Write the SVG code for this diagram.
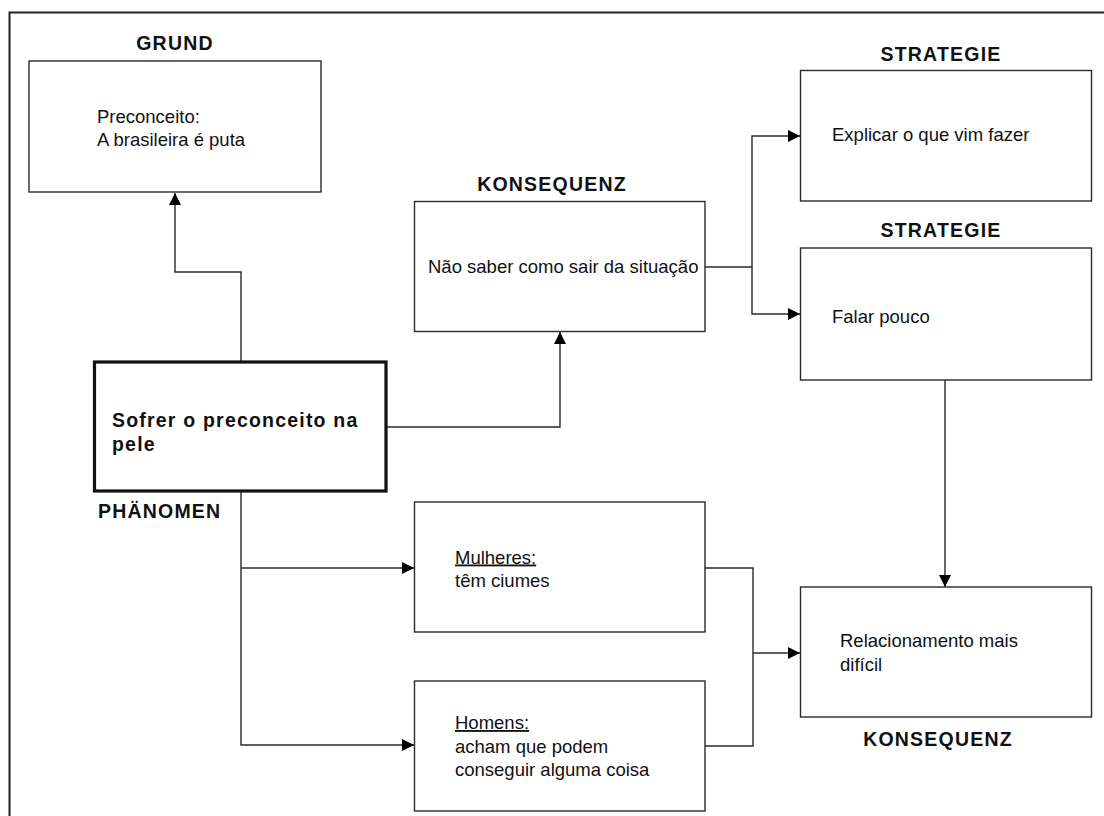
<svg xmlns="http://www.w3.org/2000/svg" width="1104" height="816" viewBox="0 0 1104 816">
<style>
.box{fill:#fff;stroke:#2a2a2a;stroke-width:1.4}
.thick{fill:#fff;stroke:#111;stroke-width:3.2}
.t{font-family:"Liberation Sans",Arial,sans-serif;font-size:18.5px;fill:#111}
.b{font-family:"Liberation Sans",Arial,sans-serif;font-size:19.5px;font-weight:bold;letter-spacing:1.2px;fill:#111}
.c{fill:none;stroke:#2a2a2a;stroke-width:1.4}
</style>
<defs>
<marker id="ah" markerUnits="userSpaceOnUse" markerWidth="13" markerHeight="12" refX="12" refY="6" orient="auto">
<path d="M0,0 L12,6 L0,12 z" fill="#000"/>
</marker>
</defs>
<rect width="1104" height="816" fill="#fff"/>
<rect x="9.5" y="12.5" width="1200" height="900" fill="none" stroke="#222" stroke-width="2"/>
<g id="connectors">
<path class="c" d="M241,362 V272 H175 V193" marker-end="url(#ah)"/>
<path class="c" d="M386,427 H560 V332" marker-end="url(#ah)"/>
<path class="c" d="M705,267 H752 V136 H800" marker-end="url(#ah)"/>
<path class="c" d="M752,267 V314 H800" marker-end="url(#ah)"/>
<path class="c" d="M945,380 V587" marker-end="url(#ah)"/>
<path class="c" d="M241,491 V745 H414" marker-end="url(#ah)"/>
<path class="c" d="M241,568 H414" marker-end="url(#ah)"/>
<path class="c" d="M705,568 H753 V746 H705"/>
<path class="c" d="M753,653 H800" marker-end="url(#ah)"/>
</g>
<g id="grund">
<text class="b" x="175" y="50" text-anchor="middle">GRUND</text>
<rect class="box" x="29" y="61" width="292" height="131"/>
<text class="t" x="97" y="122.5">Preconceito:</text>
<text class="t" x="97" y="146">A brasileira é puta</text>
</g>
<g id="konsequenz1">
<text class="b" x="552" y="190.5" text-anchor="middle">KONSEQUENZ</text>
<rect class="box" x="414.5" y="201.5" width="290.5" height="130"/>
<text class="t" x="428" y="273">Não saber como sair da situação</text>
</g>
<g id="strategie1">
<text class="b" x="941" y="60.5" text-anchor="middle">STRATEGIE</text>
<rect class="box" x="800.5" y="70.5" width="291" height="130.5"/>
<text class="t" x="832" y="140.5">Explicar o que vim fazer</text>
</g>
<g id="strategie2">
<text class="b" x="941" y="237" text-anchor="middle">STRATEGIE</text>
<rect class="box" x="800.5" y="248" width="291" height="132"/>
<text class="t" x="832" y="323">Falar pouco</text>
</g>
<g id="phaenomen">
<rect class="thick" x="94.5" y="362" width="291.5" height="129"/>
<text class="b" x="112" y="426.5">Sofrer o preconceito na</text>
<text class="b" x="112" y="450.5">pele</text>
<text class="b" x="98" y="518">PHÄNOMEN</text>
</g>
<g id="mulheres">
<rect class="box" x="414.5" y="502" width="290.5" height="130"/>
<text class="t" x="455" y="563.5"><tspan text-decoration="underline">Mulheres:</tspan></text>
<text class="t" x="455" y="587">têm ciumes</text>
</g>
<g id="homens">
<rect class="box" x="414.5" y="681" width="290.5" height="130"/>
<text class="t" x="455" y="729"><tspan text-decoration="underline">Homens:</tspan></text>
<text class="t" x="455" y="752.5">acham que podem</text>
<text class="t" x="455" y="776">conseguir alguma coisa</text>
</g>
<g id="relacionamento">
<rect class="box" x="800.5" y="587" width="291" height="130"/>
<text class="t" x="840" y="647">Relacionamento mais</text>
<text class="t" x="840" y="670.5">difícil</text>
<text class="b" x="938" y="746" text-anchor="middle">KONSEQUENZ</text>
</g>
</svg>
